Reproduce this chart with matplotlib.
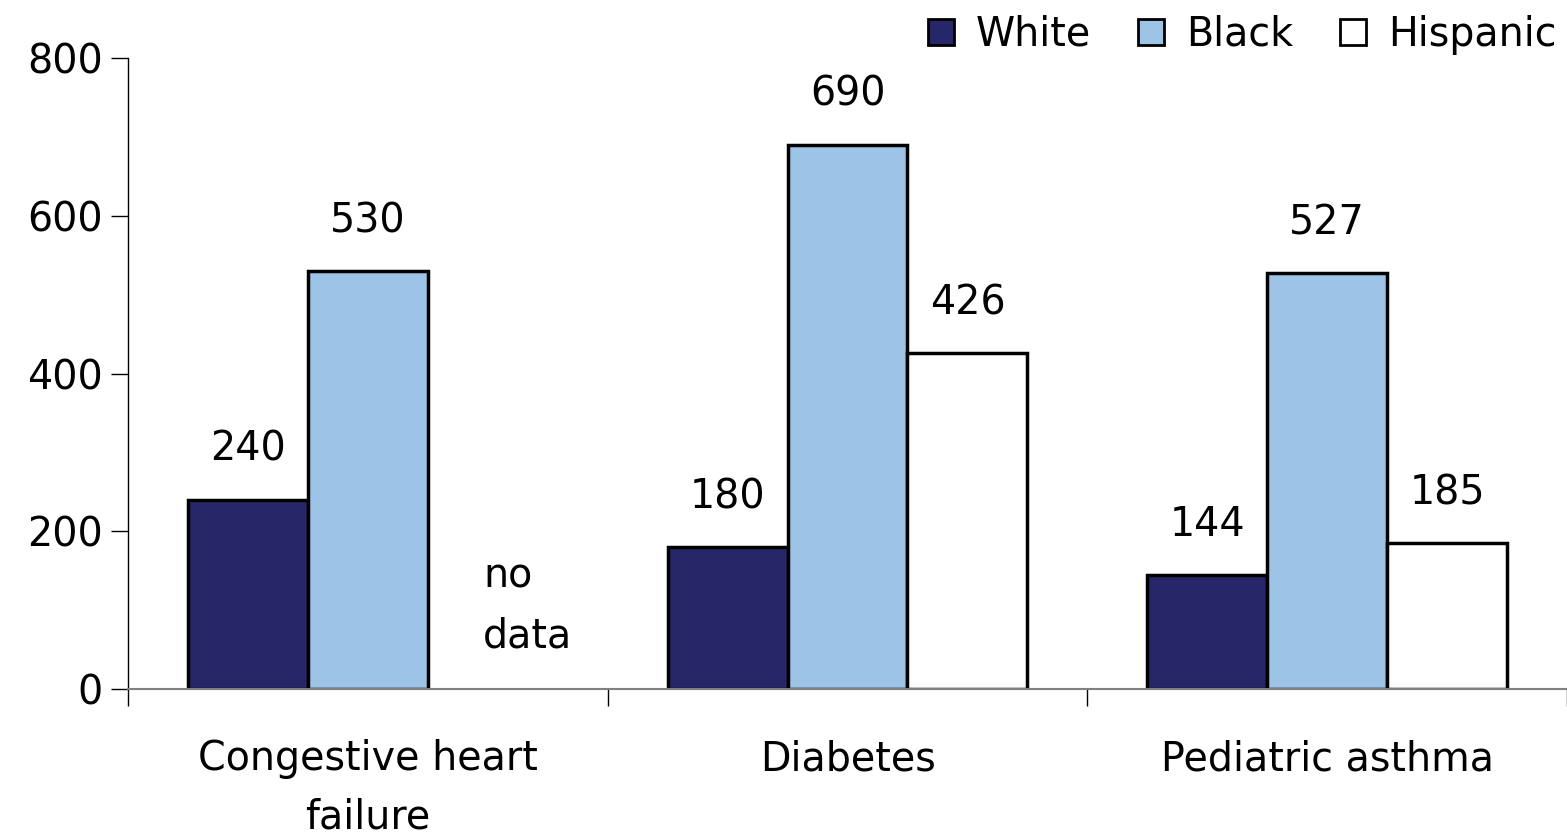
import numpy as np
import matplotlib.pyplot as plt
from matplotlib.patches import Patch

# Datos del gráfico
categorias = ['Congestive heart\nfailure', 'Diabetes', 'Pediatric asthma']
grupos = ['White', 'Black', 'Hispanic']
white = [240, 180, 144]
black = [530, 690, 527]
hispanic = [np.nan, 426, 185]
colores = ['#262669', '#9dc3e6', '#ffffff']

plt.rcParams['font.family'] = ['DejaVu Sans']
plt.rcParams['font.size'] = 28.5

fig = plt.figure(figsize=(15.67, 8.36), dpi=100)
ax = fig.add_axes([0.0817, 0.1758, 0.9183, 0.7548])

x = np.arange(len(categorias))
ancho = 0.25
series = [white, black, hispanic]
for i, (vals, color) in enumerate(zip(series, colores)):
    pos = x + (i - 1) * ancho
    ax.bar(pos, vals, ancho, color=color, edgecolor='black', linewidth=2.5)
    for xp, v in zip(pos, vals):
        if not np.isnan(v):
            ax.text(xp, v + 38, f'{v:.0f}', ha='center', va='bottom')

# Sin datos para hispanos en insuficiencia cardiaca
ax.text(x[0] + 0.24, 168, 'no\ndata', ha='left', va='top', linespacing=1.65)

ax.set_xlim(-0.5, 2.49)
ax.set_ylim(0, 800)
ax.set_yticks([0, 200, 400, 600, 800])
ax.tick_params(axis='y', length=12, width=1, pad=6)

ax.set_xticks([-0.5, 0.5, 1.5, 2.5])
ax.set_xticklabels([])
ax.tick_params(axis='x', which='major', length=12, width=1, color='black')
ax.set_xticks(x, minor=True)
ax.set_xticklabels(categorias, minor=True, linespacing=1.6)
ax.tick_params(axis='x', which='minor', length=0, pad=36)

for s in ['top', 'right']:
    ax.spines[s].set_visible(False)
ax.spines['bottom'].set_color('#808080')
ax.spines['bottom'].set_linewidth(1.5)
ax.spines['left'].set_linewidth(1)

handles = [Patch(facecolor=c, edgecolor='black', linewidth=2) for c in colores]
fig.legend(handles, grupos, loc='upper right', bbox_to_anchor=(1.016, 1.025), ncol=3,
           frameon=False, handlelength=0.65, handleheight=0.65, handletextpad=0.55,
           columnspacing=1.2, fontsize=28.5)

fig.savefig('out.png', dpi=100)
